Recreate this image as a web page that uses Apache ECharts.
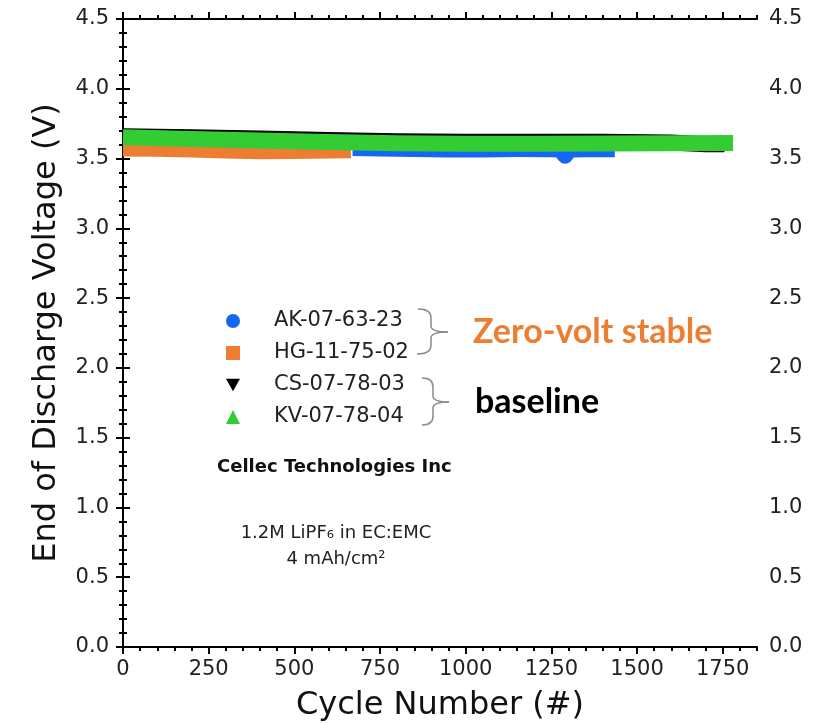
<!DOCTYPE html>
<html>
<head>
<meta charset="utf-8">
<script src="https://cdn.jsdelivr.net/npm/echarts@6/dist/echarts.min.js"></script>
<style>
  html, body { margin: 0; padding: 0; background: #fff; }
  #chart { width: 835px; height: 723px; }
</style>
</head>
<body>
<div id="chart"></div>
<script>
// 数据：每条曲线（循环数, 放电末电压）
const seriesNames = ['AK-07-63-23', 'HG-11-75-02', 'CS-07-78-03', 'KV-07-78-04'];
const seriesColors = ['#1467f5', '#ed7d31', '#000000', '#33cc33'];

const akCycles = [670, 750, 850, 950, 1050, 1150, 1250, 1275, 1290, 1305, 1350, 1435];
const akVolts  = [3.575, 3.572, 3.568, 3.565, 3.565, 3.568, 3.566, 3.565, 3.52, 3.565, 3.566, 3.567];

const hgCycles = [0, 100, 200, 300, 400, 500, 600, 665];
const hgVolts  = [3.572, 3.570, 3.565, 3.558, 3.553, 3.555, 3.558, 3.560];

const csCycles = [0, 200, 400, 600, 800, 1000, 1200, 1400, 1600, 1700, 1755];
const csVolts  = [3.660, 3.652, 3.643, 3.633, 3.624, 3.620, 3.620, 3.620, 3.615, 3.603, 3.603];

const kvCycles = [0, 200, 400, 600, 800, 1000, 1200, 1400, 1600, 1780];
const kvVolts  = [3.652, 3.641, 3.630, 3.619, 3.610, 3.606, 3.606, 3.608, 3.609, 3.612];

const xMajorTicks = [0, 250, 500, 750, 1000, 1250, 1500, 1750];

const FONT = 'DejaVu Sans';
const chart = echarts.init(document.getElementById('chart'));

function pairs(xs, ys) {
    return xs.map((x, i) => [x, ys[i]]);
}

const allData = [
    pairs(akCycles, akVolts),
    pairs(hgCycles, hgVolts),
    pairs(csCycles, csVolts),
    pairs(kvCycles, kvVolts)
];

const legendIcons = ['circle', 'rect', 'path://M0,0L10,0L5,9Z', 'triangle'];

function xAxisBase(pos) {
    return {
        type: 'value', position: pos, min: 0, max: 1850,
        splitLine: { show: false }
    };
}

// 花括号：左端 x0(上) x3(下)，竖线 xs，尖端 xt
function brace(x0, x3, xs, xt, yTop, yMid, yBot) {
    const st = { fill: null, stroke: '#8a8a8a', lineWidth: 1.5 };
    return [
        { type: 'bezierCurve', shape: { x1: x0, y1: yTop, x2: xs, y2: yTop + 9, cpx1: xs, cpy1: yTop }, style: st },
        { type: 'line', shape: { x1: xs, y1: yTop + 9, x2: xs, y2: yMid - 6 }, style: st },
        { type: 'bezierCurve', shape: { x1: xs, y1: yMid - 6, x2: xt, y2: yMid, cpx1: xs, cpy1: yMid }, style: st },
        { type: 'bezierCurve', shape: { x1: xt, y1: yMid, x2: xs, y2: yMid + 6, cpx1: xs, cpy1: yMid }, style: st },
        { type: 'line', shape: { x1: xs, y1: yMid + 6, x2: xs, y2: yBot - 9 }, style: st },
        { type: 'bezierCurve', shape: { x1: xs, y1: yBot - 9, x2: x3, y2: yBot, cpx1: xs, cpy1: yBot }, style: st }
    ];
}

const option = {
    animation: false,
    backgroundColor: '#fff',
    grid: { left: 123, right: 78, top: 19, bottom: 76, containLabel: false, outerBoundsMode: 'none' },
    legend: {
        orient: 'vertical',
        left: 221, top: 305,
        itemWidth: 14, itemHeight: 14,
        itemGap: 10,
        selectedMode: false,
        textStyle: { fontFamily: FONT, fontSize: 21, color: '#222', lineHeight: 22, padding: [0, 0, 0, 29] },
        data: seriesNames.map((n, i) => ({ name: n, icon: legendIcons[i] }))
    },
    xAxis: [
        Object.assign(xAxisBase('bottom'), {
            interval: 250,
            name: 'Cycle Number (#)', nameLocation: 'middle', nameGap: 43,
            nameTextStyle: { fontFamily: FONT, fontSize: 32, color: '#111' },
            axisLine: { show: true, lineStyle: { color: '#000', width: 2 } },
            axisTick: { show: true, length: 7, customValues: xMajorTicks, lineStyle: { color: '#000', width: 2 } },
            axisLabel: { fontFamily: FONT, fontSize: 21, color: '#222', margin: 12, customValues: xMajorTicks, formatter: v => String(v) }
        }),
        Object.assign(xAxisBase('bottom'), {
            interval: 50,
            axisLine: { show: false },
            axisTick: { show: true, length: 4, lineStyle: { color: '#000', width: 2 } },
            axisLabel: { show: false }
        }),
        Object.assign(xAxisBase('top'), {
            interval: 250,
            axisLine: { show: true, lineStyle: { color: '#000', width: 2 } },
            axisTick: { show: true, length: 7, customValues: xMajorTicks, lineStyle: { color: '#000', width: 2 } },
            axisLabel: { show: false }
        }),
        Object.assign(xAxisBase('top'), {
            interval: 50,
            axisLine: { show: false },
            axisTick: { show: true, length: 4, lineStyle: { color: '#000', width: 2 } },
            axisLabel: { show: false }
        })
    ],
    yAxis: [
        {
            type: 'value', position: 'left', min: 0, max: 4.5, interval: 0.5,
            name: 'End of Discharge Voltage (V)', nameLocation: 'middle', nameGap: 60,
            nameTextStyle: { fontFamily: FONT, fontSize: 32, color: '#111' },
            splitLine: { show: false },
            axisLine: { show: true, lineStyle: { color: '#000', width: 2 } },
            axisTick: { show: true, length: 7, lineStyle: { color: '#000', width: 2 } },
            minorTick: { show: true, splitNumber: 5, length: 4, lineStyle: { color: '#000', width: 2 } },
            axisLabel: { fontFamily: FONT, fontSize: 21, color: '#222', margin: 14, formatter: v => v.toFixed(1) }
        },
        {
            type: 'value', position: 'right', min: 0, max: 4.5, interval: 0.5,
            splitLine: { show: false },
            axisLine: { show: true, lineStyle: { color: '#000', width: 2 } },
            axisTick: { show: true, length: 7, lineStyle: { color: '#000', width: 2 } },
            minorTick: { show: true, splitNumber: 5, length: 4, lineStyle: { color: '#000', width: 2 } },
            axisLabel: { fontFamily: FONT, fontSize: 21, color: '#222', margin: 12, formatter: v => v.toFixed(1) }
        }
    ],
    series: seriesNames.map((n, i) => ({
        name: n,
        type: 'line',
        xAxisIndex: 0, yAxisIndex: 0,
        showSymbol: false,
        symbol: 'none',
        data: allData[i],
        itemStyle: { color: seriesColors[i] },
        lineStyle: { color: seriesColors[i], width: 16, cap: 'butt', join: 'round' }
    })),
    graphic: [
        ...brace(418, 417, 431, 448, 309, 332, 354),
        ...brace(422, 422, 433, 449, 378, 402, 425),
        {
            type: 'text', left: 473, top: 315,
            style: { text: 'Zero-volt stable', fill: '#ed7d31', font: 'bold 34px Lato' }
        },
        {
            type: 'text', left: 475, top: 385,
            style: { text: 'baseline', fill: '#000', font: 'bold 34px Lato' }
        },
        {
            type: 'text', left: 217, top: 458,
            style: { text: 'Cellec Technologies Inc', fill: '#111', font: 'bold 18px "DejaVu Sans"' }
        },
        {
            type: 'text', x: 336, y: 533,
            style: { text: '1.2M LiPF₆ in EC:EMC', fill: '#222', font: '18px "DejaVu Sans"', align: 'center', verticalAlign: 'middle' }
        },
        {
            type: 'text', x: 336, y: 559,
            style: { text: '4 mAh/cm²', fill: '#222', font: '18px "DejaVu Sans"', align: 'center', verticalAlign: 'middle' }
        }
    ]
};

chart.setOption(option);

window.addEventListener('resize', () => chart.resize());
</script>
</body>
</html>
